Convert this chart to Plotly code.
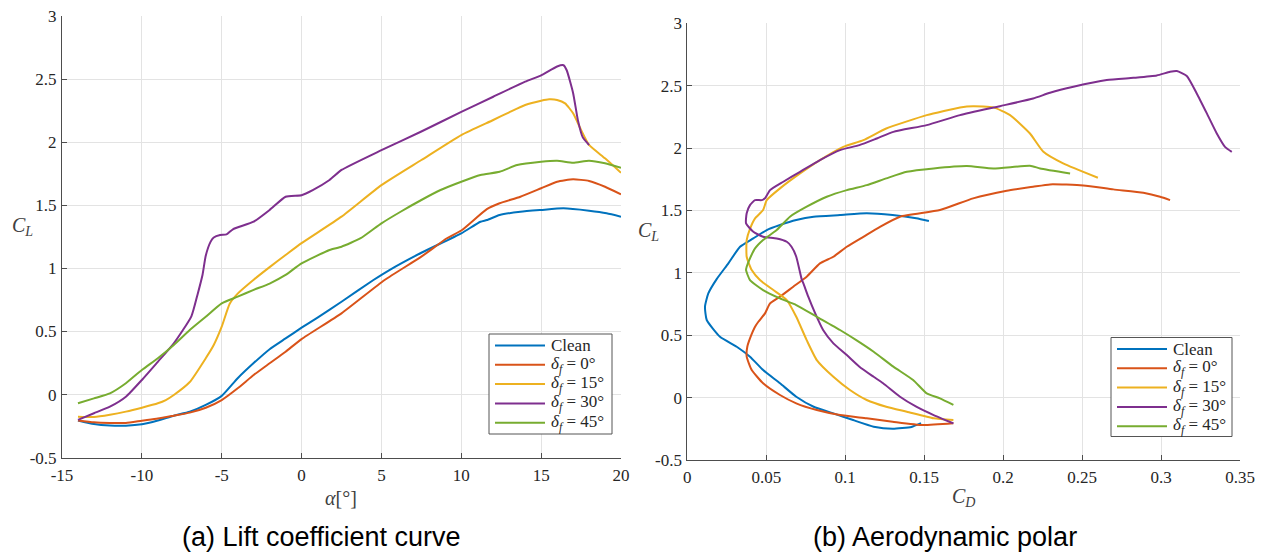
import plotly.graph_objects as go

# ---------------- data: lift curve (alpha [deg], C_L) ----------------
alpha_clean = [-14, -13, -12, -11, -10, -9, -8, -7, -6, -5, -4, -3, -2, -1, 0, 1, 2.5, 4.5, 5.5, 7.5, 10, 11.2, 11.6, 12.4, 13.7, 15, 16.4, 18, 19.1, 20]
cl_clean = [-0.205, -0.233, -0.245, -0.246, -0.235, -0.205, -0.167, -0.136, -0.082, -0.01, 0.13, 0.25, 0.36, 0.445, 0.53, 0.61, 0.736, 0.908, 0.987, 1.124, 1.278, 1.37, 1.383, 1.423, 1.449, 1.463, 1.476, 1.457, 1.437, 1.41]

alpha_f0 = [-14, -13, -12, -11, -10, -9, -8, -7, -6, -5, -4, -3, -2, -1, 0, 2.5, 5.2, 7.5, 9.1, 10, 11.6, 12.4, 13.7, 15, 16, 17, 18, 19, 20]
cl_f0 = [-0.205, -0.22, -0.225, -0.225, -0.207, -0.19, -0.167, -0.143, -0.104, -0.043, 0.05, 0.155, 0.248, 0.34, 0.44, 0.644, 0.908, 1.093, 1.239, 1.3, 1.47, 1.516, 1.568, 1.635, 1.687, 1.706, 1.693, 1.647, 1.587]

alpha_f15 = [-14, -13, -12, -11, -10, -9, -8.5, -8, -7, -6, -5.5, -5, -4.5, -4, -3, -2, -1, 0, 2.5, 5, 7.5, 10, 12, 13, 14, 15, 15.5, 16, 16.5, 17, 17.5, 18, 19, 20]
cl_f15 = [-0.175, -0.178, -0.16, -0.135, -0.104, -0.069, -0.043, -0.003, 0.1, 0.288, 0.393, 0.538, 0.72, 0.80, 0.91, 1.01, 1.106, 1.2, 1.41, 1.66, 1.859, 2.057, 2.176, 2.237, 2.295, 2.329, 2.34, 2.335, 2.308, 2.229, 2.097, 1.978, 1.872, 1.758]

alpha_f30 = [-14, -13, -12, -11, -10, -9, -8, -6.9, -6.5, -6.2, -6.0, -5.7, -5.5, -5.1, -4.7, -4.3, -3, -2, -1, 0, 0.7, 1.75, 2.5, 5, 7.5, 10, 12, 14, 15, 16, 16.4, 16.6, 17, 17.3, 17.6, 18]
cl_f30 = [-0.2, -0.148, -0.096, -0.017, 0.116, 0.26, 0.406, 0.62, 0.80, 0.95, 1.10, 1.21, 1.245, 1.265, 1.27, 1.31, 1.37, 1.463, 1.568, 1.58, 1.62, 1.70, 1.78, 1.937, 2.085, 2.24, 2.36, 2.48, 2.53, 2.6, 2.61, 2.57, 2.39, 2.175, 2.04, 1.978]

alpha_f45 = [-14, -13, -12, -11, -10, -9, -8, -7, -6, -5, -4, -3, -2, -1, 0, 1.75, 2.5, 3.7, 5, 6.2, 7.5, 8.7, 10, 11.2, 12.4, 13.5, 15, 16, 17, 18, 19, 20]
cl_f45 = [-0.069, -0.03, 0.01, 0.09, 0.195, 0.288, 0.393, 0.512, 0.617, 0.723, 0.776, 0.83, 0.88, 0.948, 1.04, 1.146, 1.172, 1.239, 1.357, 1.449, 1.542, 1.621, 1.687, 1.74, 1.766, 1.819, 1.845, 1.853, 1.837, 1.853, 1.833, 1.798]

# ---------------- data: drag polar (C_D, C_L) ----------------
cd_p_clean = [0.148, 0.142, 0.130, 0.118, 0.105, 0.0925, 0.080, 0.069, 0.0587, 0.048, 0.0397, 0.0313, 0.0207, 0.0123, 0.0112, 0.0133, 0.0186, 0.026, 0.0334, 0.0418, 0.0503, 0.0587, 0.069, 0.080, 0.0967, 0.1136, 0.130, 0.145, 0.153]
cl_p_clean = [-0.205, -0.235, -0.25, -0.233, -0.18, -0.126, -0.073, 0.007, 0.115, 0.221, 0.328, 0.408, 0.488, 0.622, 0.728, 0.835, 0.95, 1.076, 1.209, 1.276, 1.343, 1.383, 1.423, 1.45, 1.463, 1.477, 1.463, 1.437, 1.415]

cd_p_f0 = [0.1685, 0.149, 0.130, 0.1136, 0.0967, 0.082, 0.069, 0.0587, 0.048, 0.0408, 0.0376, 0.038, 0.0397, 0.0429, 0.045, 0.0492, 0.0524, 0.0587, 0.0671, 0.0756, 0.084, 0.0925, 0.101, 0.1115, 0.122, 0.1347, 0.16, 0.181, 0.2023, 0.219, 0.2297, 0.2508, 0.2698, 0.2888, 0.2994, 0.3057]
cl_p_f0 = [-0.206, -0.22, -0.193, -0.166, -0.14, -0.1, -0.046, 0.021, 0.115, 0.221, 0.328, 0.408, 0.475, 0.568, 0.608, 0.675, 0.756, 0.809, 0.889, 0.969, 1.076, 1.129, 1.209, 1.289, 1.369, 1.45, 1.503, 1.597, 1.658, 1.69, 1.709, 1.701, 1.669, 1.642, 1.61, 1.583]

cd_p_f15 = [0.1685, 0.156, 0.139, 0.126, 0.1136, 0.103, 0.0925, 0.082, 0.0756, 0.069, 0.063, 0.0545, 0.046, 0.0408, 0.0376, 0.0376, 0.0397, 0.0429, 0.048, 0.0503, 0.0587, 0.0714, 0.084, 0.0988, 0.1115, 0.126, 0.1516, 0.1727, 0.181, 0.1938, 0.2044, 0.217, 0.2255, 0.238, 0.260]
cl_p_f15 = [-0.18, -0.166, -0.113, -0.073, -0.019, 0.061, 0.167, 0.301, 0.461, 0.648, 0.782, 0.862, 0.942, 1.022, 1.129, 1.263, 1.353, 1.437, 1.503, 1.583, 1.677, 1.797, 1.904, 2.01, 2.064, 2.157, 2.264, 2.326, 2.336, 2.326, 2.264, 2.117, 1.97, 1.877, 1.762]

cd_p_f30 = [0.1685, 0.156, 0.145, 0.1347, 0.124, 0.118, 0.109, 0.101, 0.0925, 0.086, 0.081, 0.0766, 0.0735, 0.0724, 0.069, 0.066, 0.063, 0.0566, 0.048, 0.0418, 0.0372, 0.0376, 0.0397, 0.0429, 0.0471, 0.0492, 0.0524, 0.0608, 0.0714, 0.084, 0.0967, 0.109, 0.12, 0.1305, 0.1516, 0.1727, 0.198, 0.219, 0.2297, 0.2445, 0.2656, 0.2825, 0.2973, 0.3057, 0.31, 0.3163, 0.3226, 0.329, 0.3353, 0.3405, 0.3448]
cl_p_f30 = [-0.206, -0.14, -0.073, 0.007, 0.115, 0.167, 0.248, 0.341, 0.435, 0.542, 0.675, 0.809, 0.916, 0.95, 1.129, 1.209, 1.249, 1.276, 1.289, 1.329, 1.396, 1.477, 1.543, 1.583, 1.583, 1.597, 1.663, 1.73, 1.81, 1.904, 1.984, 2.024, 2.077, 2.13, 2.184, 2.264, 2.336, 2.397, 2.443, 2.491, 2.545, 2.563, 2.582, 2.611, 2.617, 2.577, 2.438, 2.278, 2.117, 2.01, 1.97]

cd_p_f45 = [0.1685, 0.16, 0.1516, 0.143, 0.1305, 0.118, 0.107, 0.0967, 0.082, 0.069, 0.0587, 0.048, 0.0397, 0.0372, 0.0376, 0.0397, 0.0429, 0.048, 0.0566, 0.065, 0.0756, 0.0883, 0.101, 0.1136, 0.126, 0.139, 0.156, 0.177, 0.1938, 0.217, 0.2234, 0.2424]
cl_p_f45 = [-0.059, -0.006, 0.034, 0.141, 0.248, 0.368, 0.461, 0.542, 0.648, 0.742, 0.795, 0.862, 0.942, 1.022, 1.049, 1.116, 1.196, 1.263, 1.343, 1.45, 1.53, 1.61, 1.663, 1.703, 1.757, 1.81, 1.837, 1.856, 1.837, 1.858, 1.837, 1.797]

series_names = ["Clean", "<i>δ</i><sub><i>f</i></sub> = 0°", "<i>δ</i><sub><i>f</i></sub> = 15°",
                "<i>δ</i><sub><i>f</i></sub> = 30°", "<i>δ</i><sub><i>f</i></sub> = 45°"]
colors = ["#0072BD", "#D95319", "#EDB120", "#7E2F8E", "#77AC30"]

x1_ticks = [-15, -10, -5, 0, 5, 10, 15, 20]
x1_text = ["-15", "-10", "-5", "0", "5", "10", "15", "20"]
y_ticks = [-0.5, 0, 0.5, 1, 1.5, 2, 2.5, 3]
y_text = ["-0.5", "0", "0.5", "1", "1.5", "2", "2.5", "3"]
x2_ticks = [0, 0.05, 0.1, 0.15, 0.2, 0.25, 0.3, 0.35]
x2_text = ["0", "0.05", "0.1", "0.15", "0.2", "0.25", "0.3", "0.35"]

lift = [(alpha_clean, cl_clean), (alpha_f0, cl_f0), (alpha_f15, cl_f15), (alpha_f30, cl_f30), (alpha_f45, cl_f45)]
polar = [(cd_p_clean, cl_p_clean), (cd_p_f0, cl_p_f0), (cd_p_f15, cl_p_f15), (cd_p_f30, cl_p_f30), (cd_p_f45, cl_p_f45)]

W, H = 1265, 553
SERIF = "Liberation Serif, DejaVu Serif, serif"
AXC = "#4d4d4d"
GRID = "#e3e3e3"

fig = go.Figure()
for i in range(5):
    fig.add_trace(go.Scatter(x=lift[i][0], y=lift[i][1], mode="lines", name=series_names[i],
                             line=dict(color=colors[i], width=2, shape="spline", smoothing=0.5),
                             xaxis="x", yaxis="y", showlegend=False))
for i in range(5):
    fig.add_trace(go.Scatter(x=polar[i][0], y=polar[i][1], mode="lines", name=series_names[i],
                             line=dict(color=colors[i], width=2, shape="spline", smoothing=0.5),
                             xaxis="x2", yaxis="y2", showlegend=False))

def px_x(p):
    return p / W

def px_y(p):
    return 1 - p / H

axis_common = dict(showline=True, linecolor=AXC, linewidth=1, ticks="inside", ticklen=5,
                   tickcolor=AXC, showgrid=True, gridcolor=GRID, gridwidth=1, zeroline=False,
                   tickfont=dict(family=SERIF, size=17, color="#262626"), mirror=False,
                   automargin=False)

fig.update_layout(
    width=W, height=H, margin=dict(l=0, r=0, t=0, b=0, autoexpand=False),
    paper_bgcolor="white", plot_bgcolor="white", showlegend=False,
    xaxis=dict(domain=[px_x(62), px_x(621)], range=[-15, 20], tickvals=x1_ticks, ticktext=x1_text,
               anchor="y", ticklabelstandoff=2, **axis_common),
    yaxis=dict(domain=[px_y(457.7), px_y(16)], range=[-0.5, 3], tickvals=y_ticks, ticktext=y_text,
               anchor="x", ticklabelstandoff=1, **axis_common),
    xaxis2=dict(domain=[px_x(687.3), px_x(1240)], range=[0, 0.35], tickvals=x2_ticks, ticktext=x2_text,
                anchor="y2", ticklabelstandoff=2, **axis_common),
    yaxis2=dict(domain=[px_y(460), px_y(23.3)], range=[-0.5, 3], tickvals=y_ticks, ticktext=y_text,
                anchor="x2", ticklabelstandoff=1, **axis_common),
)

ann_font = dict(family=SERIF, size=20, color="#404040")
cap_font = dict(family="Liberation Sans, Arial, sans-serif", size=27, color="black")
annotations = [
    dict(x=px_x(22), y=px_y(226), text="<i>C</i><sub><i>L</i></sub>", font=ann_font),
    dict(x=px_x(648), y=px_y(231), text="<i>C</i><sub><i>L</i></sub>", font=ann_font),
    dict(x=px_x(341), y=px_y(498), text="<i>α</i>[°]", font=ann_font),
    dict(x=px_x(963), y=px_y(498), text="<i>C</i><sub><i>D</i></sub>", font=ann_font),
    dict(x=px_x(321), y=px_y(537), text="(a) Lift coefficient curve", font=cap_font),
    dict(x=px_x(945), y=px_y(537), text="(b) Aerodynamic polar", font=cap_font),
]
for a in annotations:
    a.update(xref="paper", yref="paper", showarrow=False, xanchor="center", yanchor="middle")

# legend boxes (one per panel), built from the series names and colours
shapes = []
legend_boxes = [(489, 334, 612, 434), (1111, 337.5, 1232, 436.5)]
for (bx0, by0, bx1, by1) in legend_boxes:
    shapes.append(dict(type="rect", xref="paper", yref="paper",
                       x0=px_x(bx0), x1=px_x(bx1), y0=px_y(by1), y1=px_y(by0),
                       line=dict(color="#555", width=1), fillcolor="white", layer="above"))
    for i in range(5):
        ry = by0 + 11.5 + 19.3 * i
        shapes.append(dict(type="line", xref="paper", yref="paper",
                           x0=px_x(bx0 + 6), x1=px_x(bx0 + 56), y0=px_y(ry), y1=px_y(ry),
                           line=dict(color=colors[i], width=2), layer="above"))
        annotations.append(dict(x=px_x(bx0 + 60), y=px_y(ry), xref="paper", yref="paper",
                                text=series_names[i], showarrow=False, xanchor="left",
                                yanchor="middle", font=dict(family=SERIF, size=17, color="#262626")))

fig.update_layout(annotations=annotations, shapes=shapes)

fig.write_html("out.html")
